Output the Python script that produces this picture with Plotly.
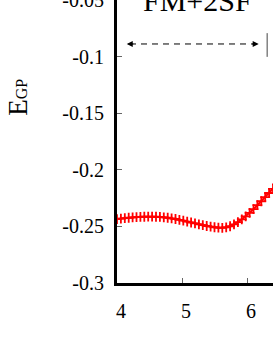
import plotly.graph_objects as go

# data
x_vals = [4.00, 4.06, 4.12, 4.18, 4.24, 4.30, 4.36, 4.42, 4.48, 4.54,
          4.60, 4.66, 4.72, 4.78, 4.84, 4.90, 4.96, 5.02, 5.08, 5.14,
          5.20, 5.26, 5.32, 5.38, 5.44, 5.50, 5.56, 5.62, 5.68, 5.74,
          5.80, 5.86, 5.92, 5.98, 6.04, 6.10, 6.16, 6.22, 6.28, 6.34,
          6.40, 6.46]
e_gp = [-0.2435, -0.2431, -0.2427, -0.2423, -0.2420, -0.2417, -0.2415, -0.2414, -0.2413, -0.2413,
        -0.2414, -0.2416, -0.2419, -0.2423, -0.2428, -0.2434, -0.2441, -0.2449, -0.2457, -0.2465,
        -0.2473, -0.2481, -0.2489, -0.2496, -0.2502, -0.2507, -0.2511, -0.2512, -0.2508, -0.2498,
        -0.2482, -0.2462, -0.2438, -0.2410, -0.2380, -0.2347, -0.2312, -0.2277, -0.2241, -0.2204,
        -0.2167, -0.2128]

y_ticks = [-0.3, -0.25, -0.2, -0.15, -0.1, -0.05]
y_tick_text = ["-0.3", "-0.25", "-0.2", "-0.15", "-0.1", "-0.05"]
x_ticks = [4, 5, 6]
x_tick_text = ["4", "5", "6"]

region_label = "FM+2SF"
arrow_y = -0.0886
arrow_x0, arrow_x1 = 4.15, 6.18
bar_x = 6.31
bar_y0, bar_y1 = -0.079, -0.1

FONT = "Liberation Serif"
tick_font = dict(family=FONT, size=20, color="black")

fig = go.Figure()
fig.add_trace(go.Scatter(
    x=x_vals, y=e_gp, mode="lines+markers",
    line=dict(color="red", width=2),
    marker=dict(symbol="cross-thin", size=7, line=dict(color="red", width=1.8)),
    cliponaxis=True, showlegend=False,
))

# dashed double arrow
fig.add_shape(type="line", x0=arrow_x0 + 0.05, x1=arrow_x1 - 0.05, y0=arrow_y, y1=arrow_y,
              line=dict(color="black", width=1, dash="6px,5px"))
for xa, ax in [(arrow_x0, 8), (arrow_x1, -8)]:
    fig.add_annotation(x=xa, y=arrow_y, ax=ax, ay=0, text="", showarrow=True,
                       arrowhead=2, arrowsize=1.2, arrowwidth=1, arrowcolor="black")
fig.add_shape(type="line", x0=bar_x, x1=bar_x, y0=bar_y0, y1=bar_y1,
              line=dict(color="#444", width=1))

fig.add_annotation(x=5.24, y=1.0, xref="x", yref="paper", text=region_label,
                   showarrow=False, font=dict(family=FONT, size=30, color="black"),
                   xanchor="center", yanchor="middle")

fig.add_annotation(x=-0.64, y=0.655, xref="paper", yref="paper",
                   text="E<span style='font-size:16px'>GP</span>",
                   textangle=-90, showarrow=False,
                   font=dict(family=FONT, size=27, color="black"),
                   xanchor="center", yanchor="middle")

fig.update_layout(
    width=273, height=353,
    margin=dict(l=117, r=0, t=0, b=70, autoexpand=False),
    plot_bgcolor="white", paper_bgcolor="white",
    font=dict(family=FONT, size=20, color="black"),
)
fig.update_xaxes(range=[4, 6.4], tickvals=x_ticks, ticktext=x_tick_text, tickfont=tick_font,
                 ticks="inside", ticklen=5, tickwidth=1, tickcolor="#666",
                 showline=True, linewidth=3, linecolor="black", automargin=False,
                 showgrid=False, zeroline=False, ticklabelshift=4, ticklabelstandoff=8,
                 ticklabeloverflow="allow")
fig.update_yaxes(range=[-0.3, -0.0497], tickvals=y_ticks, ticktext=y_tick_text, tickfont=tick_font,
                 ticks="inside", ticklen=5, tickwidth=1, tickcolor="#666",
                 showline=True, linewidth=3, linecolor="black", automargin=False,
                 showgrid=False, zeroline=False, ticklabelstandoff=6,
                 ticklabeloverflow="allow")

fig.write_html("out.html", config={"displayModeBar": False},
               post_script="document.body.style.margin='0';document.body.style.overflow='hidden';")
